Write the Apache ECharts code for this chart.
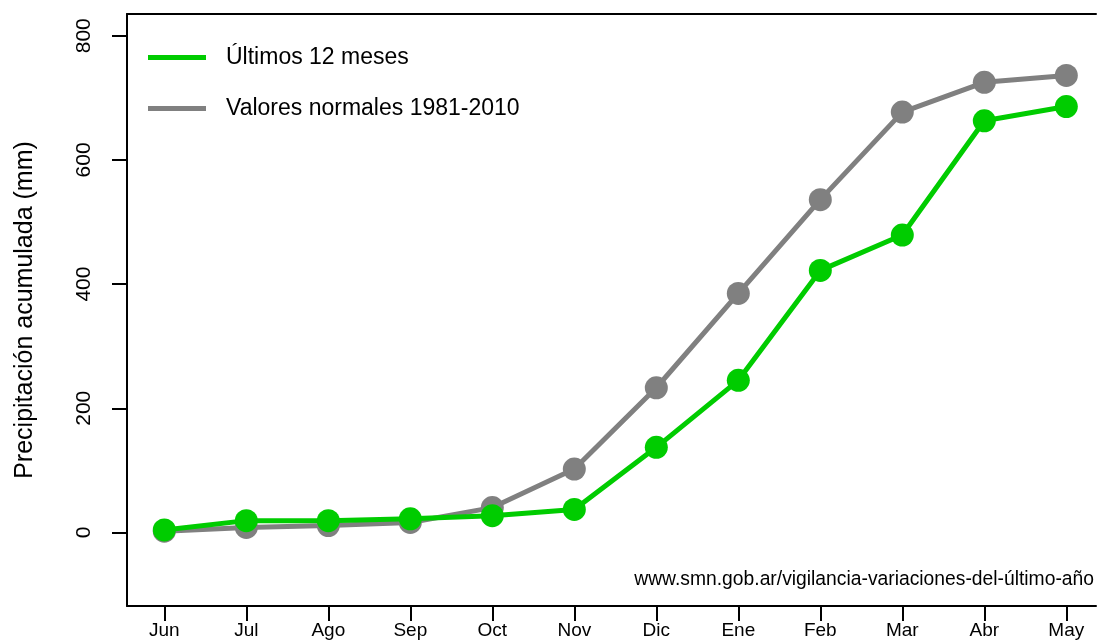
<!DOCTYPE html>
<html>
<head>
<meta charset="utf-8">
<script src="https://cdn.jsdelivr.net/npm/echarts@6/dist/echarts.min.js"></script>
<style>
html,body{margin:0;padding:0;background:#fff;}
#chart{width:1097px;height:641px;}
</style>
</head>
<body>
<div id="chart"></div>
<script>
const months = ['Jun','Jul','Ago','Sep','Oct','Nov','Dic','Ene','Feb','Mar','Abr','May'];
const ultimos = [4, 19, 19, 22, 27, 37, 137, 245, 422, 479, 663, 686];
const normales = [2, 8, 11, 16, 40, 102, 233, 385, 536, 677, 725, 736];
const yTicks = [0, 200, 400, 600, 800];
const seriesNames = ['Últimos 12 meses', 'Valores normales 1981-2010'];
const yTitle = 'Precipitación acumulada (mm)';
const credit = 'www.smn.gob.ar/vigilancia-variaciones-del-último-año';

const FONT = 'Liberation Sans, Arial, sans-serif';
const toXY = arr => arr.map((v, i) => [i + 1, v]);
const xTicks = months.map((m, i) => i + 1);
const X_MIN = 0.545, X_MAX = 12.362;

const chart = echarts.init(document.getElementById('chart'), null, {renderer: 'canvas'});
chart.setOption({
  animation: false,
  backgroundColor: '#ffffff',
  grid: {left: 127, top: 14, right: 1, height: 593, show: false},
  legend: {
    orient: 'vertical', left: 148, top: 46, itemGap: 28, padding: 0,
    itemWidth: 58, itemHeight: 5, icon: 'rect',
    data: [
      {name: seriesNames[0], itemStyle: {color: '#00cc00'}},
      {name: seriesNames[1], itemStyle: {color: '#808080'}}
    ],
    textStyle: {fontFamily: FONT, fontSize: 23, color: '#000', lineHeight: 23, padding: [0, 0, 0, 15]}
  },
  xAxis: [{
    type: 'value', min: X_MIN, max: X_MAX, position: 'bottom',
    splitLine: {show: false},
    axisLine: {show: true, onZero: false, lineStyle: {color: '#000', width: 2}},
    axisTick: {show: true, length: 15, lineStyle: {color: '#000', width: 2}, customValues: xTicks},
    axisLabel: {
      customValues: xTicks, margin: 15, fontFamily: FONT, fontSize: 19, color: '#000', lineHeight: 20,
      formatter: v => months[Math.round(v) - 1] || ''
    }
  }, {
    type: 'value', min: X_MIN, max: X_MAX, position: 'top',
    splitLine: {show: false},
    axisLine: {show: true, onZero: false, lineStyle: {color: '#000', width: 2}},
    axisTick: {show: false}, axisLabel: {show: false}
  }],
  yAxis: {
    type: 'value', min: -118.5, max: 835,
    splitLine: {show: false},
    axisLine: {show: true, onZero: false, lineStyle: {color: '#000', width: 2}},
    axisTick: {show: true, length: 15, lineStyle: {color: '#000', width: 2}, customValues: yTicks},
    axisLabel: {customValues: yTicks, rotate: 90, margin: 32, fontFamily: FONT, fontSize: 21, color: '#000'},
    name: yTitle, nameLocation: 'middle', nameRotate: 90, nameGap: 89,
    nameTextStyle: {fontFamily: FONT, fontSize: 25, color: '#000'}
  },
  graphic: [{
    type: 'text', right: 3, top: 570,
    style: {text: credit, font: '19.3px ' + FONT, fill: '#000'}
  }],
  series: [
    {
      name: seriesNames[1], type: 'line', data: toXY(normales),
      symbol: 'circle', symbolSize: 23,
      lineStyle: {color: '#808080', width: 5},
      itemStyle: {color: '#808080'},
      z: 2
    },
    {
      name: seriesNames[0], type: 'line', data: toXY(ultimos),
      symbol: 'circle', symbolSize: 23,
      lineStyle: {color: '#00cc00', width: 5},
      itemStyle: {color: '#00cc00'},
      z: 3
    }
  ]
});
</script>
</body>
</html>
